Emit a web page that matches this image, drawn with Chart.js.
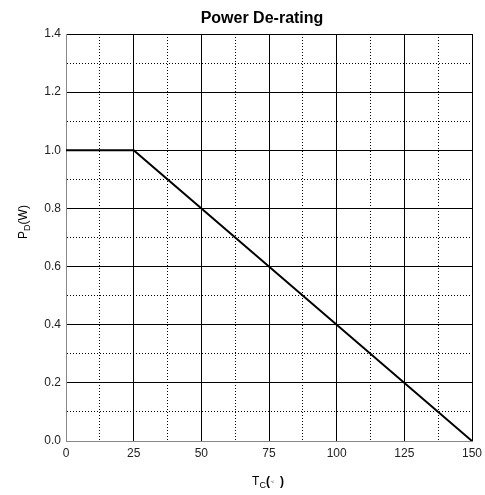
<!DOCTYPE html>
<html>
<head>
<meta charset="utf-8">
<script src="https://cdn.jsdelivr.net/npm/chart.js@4/dist/chart.umd.min.js"></script>
<style>
  html, body { margin: 0; padding: 0; background: #fff; }
  #wrap { width: 485px; height: 495px; }
</style>
</head>
<body>
<div id="wrap"><canvas id="derating"></canvas></div>
<script>
// Data
const tempC = [0, 25, 150];
const powerW = [1.0, 1.0, 0.0];
const xMajor = [0, 25, 50, 75, 100, 125, 150];
const yMajor = [0, 0.2, 0.4, 0.6, 0.8, 1.0, 1.2, 1.4];

const FONT = "'Liberation Sans', Arial, sans-serif";

function isMajor(list, v) {
  return list.some((m) => Math.abs(m - v) < 1e-6);
}

function gridDash(list) {
  return (ctx) => (ctx.tick && !isMajor(list, ctx.tick.value) ? [1, 2] : []);
}

// Title and axis titles drawn by hand (subscripts)
const labelsPlugin = {
  id: "labels",
  afterDraw(chart) {
    const { ctx } = chart;
    ctx.save();
    ctx.fillStyle = "#000";
    ctx.textBaseline = "alphabetic";

    // title
    ctx.font = "bold 16px " + FONT;
    ctx.textAlign = "center";
    ctx.fillText("Power De-rating", 262, 23);

    // x title: T_C(℃) - degree glyph shows tiny in the original
    const parts = [
      ["T", "12px", 0, 0],
      ["C", "9px", 3, 0],
      ["(", "bold 12px", 0, 0],
      ["℃", "3px", -2, 10],
      [")", "bold 12px", 0, 0],
    ];
    let w = 0;
    parts.forEach((p) => {
      ctx.font = p[1] + " " + FONT;
      w += p[3] || ctx.measureText(p[0]).width;
    });
    let x = 268 - w / 2;
    ctx.textAlign = "left";
    parts.forEach((p) => {
      ctx.font = p[1] + " " + FONT;
      ctx.fillText(p[0], x + (p[3] ? 1 : 0), 485 + p[2]);
      x += p[3] || ctx.measureText(p[0]).width;
    });

    // y title: P_D(W)
    ctx.translate(27, 222);
    ctx.rotate(-Math.PI / 2);
    const yp = [
      ["P", "12px", 0],
      ["D", "9px", 3],
      ["(W)", "12px", 0],
    ];
    let yw = 0;
    yp.forEach((p) => {
      ctx.font = p[1] + " " + FONT;
      yw += ctx.measureText(p[0]).width;
    });
    let yx = -yw / 2;
    yp.forEach((p) => {
      ctx.font = p[1] + " " + FONT;
      ctx.fillText(p[0], yx, p[2]);
      yx += ctx.measureText(p[0]).width;
    });
    ctx.restore();
  },
};

new Chart(document.getElementById("derating"), {
  type: "line",
  data: {
    datasets: [
      {
        data: tempC.map((t, i) => ({ x: t, y: powerW[i] })),
        borderColor: "#000",
        borderWidth: 2,
        pointRadius: 0,
        tension: 0,
        fill: false,
      },
    ],
  },
  options: {
    responsive: true,
    maintainAspectRatio: false,
    animation: false,
    events: [],
    layout: { padding: { top: 34, right: 13, left: 0, bottom: 0 } },
    plugins: {
      legend: { display: false },
      title: { display: false },
      tooltip: { enabled: false },
    },
    scales: {
      x: {
        type: "linear",
        min: 0,
        max: 150,
        afterFit: (s) => {
          s.height = 54;
          s.paddingLeft = 0;
          s.paddingRight = 0;
        },
        ticks: {
          stepSize: 12.5,
          autoSkip: false,
          maxRotation: 0,
          padding: 5,
          color: "#222",
          font: { family: FONT, size: 12 },
          callback: (v) => (isMajor(xMajor, v) ? String(v) : ""),
        },
        grid: { color: "#000", lineWidth: 1, drawTicks: false },
        border: { color: "#888", width: 1, dash: gridDash(xMajor) },
      },
      y: {
        min: 0,
        max: 1.4,
        afterFit: (s) => {
          s.width = 66;
          s.paddingTop = 0;
          s.paddingBottom = 0;
        },
        ticks: {
          stepSize: 0.1,
          autoSkip: false,
          padding: 5,
          color: "#222",
          font: { family: FONT, size: 12 },
          callback: (v) => (isMajor(yMajor, v) ? v.toFixed(1) : ""),
        },
        grid: { color: "#000", lineWidth: 1, drawTicks: false },
        border: { color: "#888", width: 1, dash: gridDash(yMajor) },
      },
    },
  },
  plugins: [labelsPlugin],
});
</script>
</body>
</html>
